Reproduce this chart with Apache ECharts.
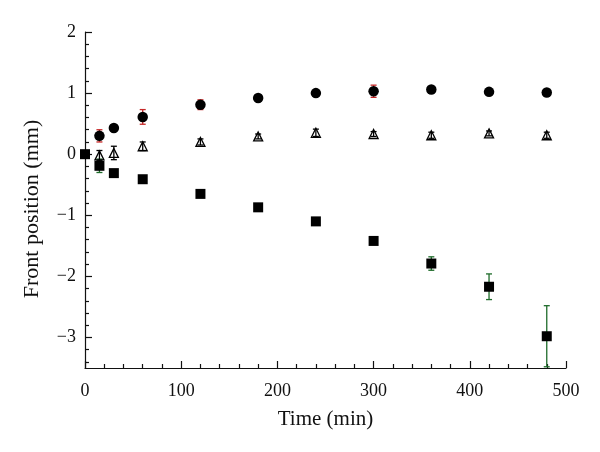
<!DOCTYPE html>
<html>
<head>
<meta charset="utf-8">
<script src="https://cdn.jsdelivr.net/npm/echarts@6/dist/echarts.min.js"></script>
<style>html,body{margin:0;padding:0;background:#fff;}#c{width:600px;height:452px;}</style>
</head>
<body>
<div id="c"></div>
<script>
// Time points (min)
var circleTime = [15, 30, 60, 120, 180, 240, 300, 360, 420, 480];
var circleVal  = [0.30, 0.43, 0.61, 0.81, 0.92, 1.00, 1.03, 1.06, 1.02, 1.01];
var circleErr  = [0.10, 0.02, 0.12, 0.08, 0.03, 0.03, 0.10, 0.02, 0.03, 0.02];

var triTime = [15, 30, 60, 120, 180, 240, 300, 360, 420, 480];
var triVal  = [-0.02, 0.02, 0.13, 0.20, 0.29, 0.35, 0.33, 0.31, 0.34, 0.31];
var triErr  = [0.08, 0.11, 0.07, 0.05, 0.04, 0.06, 0.04, 0.05, 0.04, 0.05];

var sqTime = [0, 15, 30, 60, 120, 180, 240, 300, 360, 420, 480];
var sqVal  = [0, -0.19, -0.31, -0.41, -0.65, -0.87, -1.10, -1.42, -1.79, -2.17, -2.98];
var sqErr  = [0, 0.11, 0.03, 0.03, 0.03, 0.03, 0.03, 0.05, 0.11, 0.21, 0.50];

var yMajorTicks = [-3, -2, -1, 0, 1, 2];
var yMinorTicks = [-3.4, -3.2, -2.8, -2.6, -2.4, -2.2, -1.8, -1.6, -1.4, -1.2, -0.8, -0.6, -0.4, -0.2,
                   0.2, 0.4, 0.6, 0.8, 1.2, 1.4, 1.6, 1.8];
var xLabel = 'Time (min)';
var yLabel = 'Front position (mm)';

function pts(t, v) { return t.map(function (x, i) { return [x, v[i]]; }); }
function errs(t, v, e) { return t.map(function (x, i) { return [x, v[i], e[i]]; }); }

function errRender(color) {
  return function (params, api) {
    var x = api.value(0), y = api.value(1), e = api.value(2);
    if (!e) return null;
    var top = api.coord([x, y + e]);
    var bot = api.coord([x, y - e]);
    var w = 3;
    var st = { stroke: color, lineWidth: 1.3 };
    return {
      type: 'group',
      children: [
        { type: 'line', shape: { x1: top[0], y1: top[1], x2: bot[0], y2: bot[1] }, style: st },
        { type: 'line', shape: { x1: top[0] - w, y1: top[1], x2: top[0] + w, y2: top[1] }, style: st },
        { type: 'line', shape: { x1: bot[0] - w, y1: bot[1], x2: bot[0] + w, y2: bot[1] }, style: st }
      ]
    };
  };
}

var font = 'Liberation Serif';
var chart = echarts.init(document.getElementById('c'), null, { renderer: 'canvas' });
var fmt = function (v) { return String(v).replace('-', '\u2212'); };

chart.setOption({
  animation: false,
  backgroundColor: '#fff',
  grid: { left: 85, right: 34, top: 32, bottom: 84 },
  xAxis: {
    type: 'value', min: 0, max: 500, interval: 100,
    name: xLabel, nameLocation: 'middle', nameGap: 41,
    nameTextStyle: { fontFamily: font, fontSize: 21, color: '#111' },
    axisLine: { show: true, onZero: false, lineStyle: { color: '#111', width: 1.2 } },
    axisTick: { show: true, inside: true, length: 7, lineStyle: { color: '#111', width: 1.2 } },
    minorTick: { show: true, splitNumber: 5, length: 4, lineStyle: { color: '#111', width: 1.2 } },
    axisLabel: { fontFamily: font, fontSize: 18, color: '#111', margin: 14 },
    splitLine: { show: false }
  },
  yAxis: [{
    type: 'value', min: -3.5, max: 2,
    name: yLabel, nameLocation: 'middle', nameGap: 42, nameRotate: 90,
    nameTextStyle: { fontFamily: font, fontSize: 22, color: '#111', padding: [0, 18, 0, 0] },
    axisLine: { show: true, onZero: false, lineStyle: { color: '#111', width: 1.2 } },
    axisTick: { show: true, inside: true, length: 7, customValues: yMajorTicks, lineStyle: { color: '#111', width: 1.2 } },
    axisLabel: { fontFamily: font, fontSize: 18, color: '#111', margin: 9, customValues: yMajorTicks, formatter: fmt },
    splitLine: { show: false }
  }, {
    type: 'value', min: -3.5, max: 2, position: 'left',
    axisLine: { show: false },
    axisTick: { show: true, inside: true, length: 4, customValues: yMinorTicks, lineStyle: { color: '#111', width: 1.2 } },
    axisLabel: { show: false },
    splitLine: { show: false }
  }],
  series: [
    { type: 'custom', renderItem: errRender('#c62828'), data: errs(circleTime, circleVal, circleErr), z: 1, encode: { x: 0, y: 1 } },
    { type: 'custom', renderItem: errRender('#1e6b2a'), data: errs(sqTime, sqVal, sqErr), z: 1, encode: { x: 0, y: 1 } },
    { type: 'scatter', symbol: 'circle', symbolSize: 10.5, data: pts(circleTime, circleVal), z: 3,
      itemStyle: { color: '#000', opacity: 1 } },
    { type: 'scatter', symbol: 'rect', symbolSize: 10, data: pts(sqTime, sqVal), z: 3,
      itemStyle: { color: '#000', opacity: 1 } },
    { type: 'scatter', symbol: 'triangle', symbolSize: [9, 9], data: pts(triTime, triVal), z: 3,
      itemStyle: { color: 'rgba(255,255,255,0)', borderColor: '#000', borderWidth: 1.3, opacity: 1 } },
    { type: 'custom', renderItem: errRender('#000'), data: errs(triTime, triVal, triErr), z: 4, encode: { x: 0, y: 1 } }
  ]
});
</script>
</body>
</html>
